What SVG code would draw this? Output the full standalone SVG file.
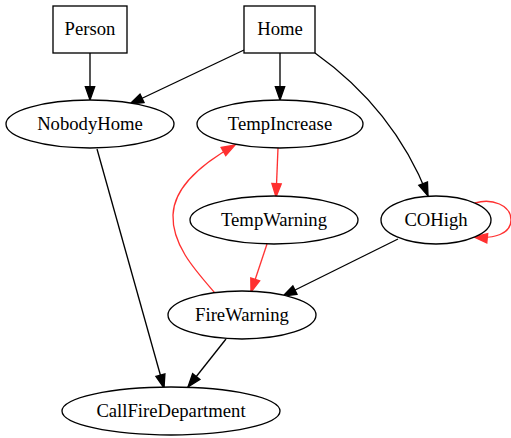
<svg xmlns="http://www.w3.org/2000/svg" width="511" height="438" viewBox="0 0 511 438">
<style>
.n{fill:#fff;stroke:#000;stroke-width:1.33}
.t{font-family:"Liberation Serif","Times New Roman",serif;font-size:18.67px;text-anchor:middle;fill:#000}
.e{fill:none;stroke:#000;stroke-width:1.33}
.r{fill:none;stroke:#ff3030;stroke-width:1.33}
</style>
<defs>
<marker id="ab" markerUnits="userSpaceOnUse" markerWidth="14" markerHeight="10" refX="13.3" refY="4.67" orient="auto" viewBox="0 0 14 10" overflow="visible">
<path d="M0,0 L13.3,4.67 L0,9.33 Z" fill="#000" stroke="#000" stroke-width="1.33"/>
</marker>
<marker id="ar" markerUnits="userSpaceOnUse" markerWidth="14" markerHeight="10" refX="13.3" refY="4.67" orient="auto" viewBox="0 0 14 10" overflow="visible">
<path d="M0,0 L13.3,4.67 L0,9.33 Z" fill="#ff3030" stroke="#ff3030" stroke-width="1.33"/>
</marker>
</defs>
<rect width="511" height="438" fill="#fff"/>
<g id="edges">
<path class="e" marker-end="url(#ab)" d="M90,53 L90,100"/>
<path class="e" marker-end="url(#ab)" d="M244,50 L130,104"/>
<path class="e" marker-end="url(#ab)" d="M280,53 L280,100"/>
<path class="e" marker-end="url(#ab)" d="M315,53 C360,85 402,130 428,196"/>
<path class="r" marker-end="url(#ar)" d="M278,148 L276,197"/>
<path class="r" marker-end="url(#ar)" d="M267,244 L251,292"/>
<path class="r" marker-end="url(#ar)" d="M215,293 C195,270 172,245 173,215 C174,185 205,162 235,145"/>
<path class="r" marker-end="url(#ar)" d="M475,203 C492,198 511,205 511,220 C511,234 494,239 474,237"/>
<path class="e" marker-end="url(#ab)" d="M398,239 L283,296"/>
<path class="e" marker-end="url(#ab)" d="M97,149 L164,388"/>
<path class="e" marker-end="url(#ab)" d="M226,339 L188,387"/>
</g>
<g id="Person"><rect class="n" x="53" y="6" width="74" height="47"/><text class="t" x="90" y="35">Person</text></g>
<g id="Home"><rect class="n" x="244" y="6" width="71" height="47"/><text class="t" x="280" y="35">Home</text></g>
<g id="NobodyHome"><ellipse class="n" cx="90" cy="124" rx="84" ry="24"/><text class="t" x="90" y="130">NobodyHome</text></g>
<g id="TempIncrease"><ellipse class="n" cx="280" cy="124" rx="83" ry="24"/><text class="t" x="280" y="130">TempIncrease</text></g>
<g id="TempWarning"><ellipse class="n" cx="274" cy="220" rx="84" ry="24"/><text class="t" x="274" y="226">TempWarning</text></g>
<g id="COHigh"><ellipse class="n" cx="436" cy="220" rx="55" ry="24"/><text class="t" x="436" y="226">COHigh</text></g>
<g id="FireWarning"><ellipse class="n" cx="242" cy="315" rx="74" ry="24"/><text class="t" x="242" y="321">FireWarning</text></g>
<g id="CallFireDepartment"><ellipse class="n" cx="171" cy="411" rx="109" ry="24"/><text class="t" x="171" y="417">CallFireDepartment</text></g>
</svg>
